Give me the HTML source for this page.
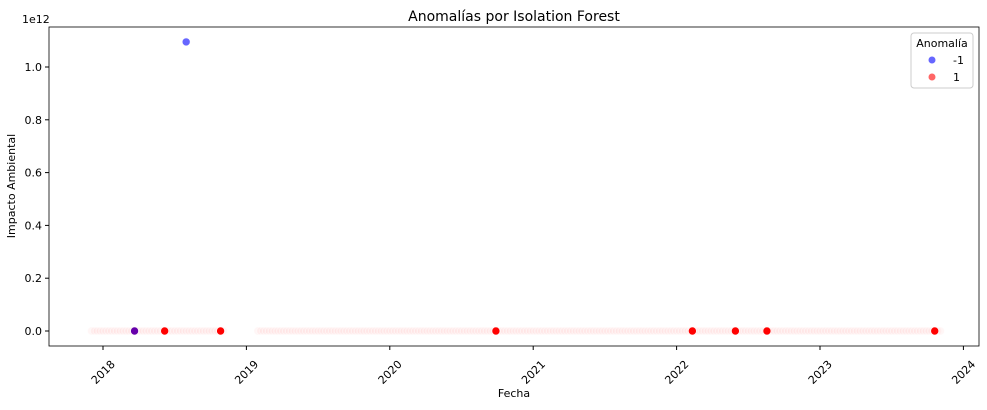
<!DOCTYPE html>
<html><head><meta charset="utf-8"><style>
body{margin:0;background:#fff;font-family:"Liberation Sans","DejaVu Sans",sans-serif}
svg text{font-family:"DejaVu Sans","Liberation Sans",sans-serif}
</style></head><body>
<svg id="c" width="987" height="405"></svg>
<script>
const yTicks=[0,0.2,0.4,0.6,0.8,1.0];
const yTickLabels=["0.0","0.2","0.4","0.6","0.8","1.0"];
const xTicks=[2018,2019,2020,2021,2022,2023,2024];
const xTickLabels=["2018","2019","2020","2021","2022","2023","2024"];
const normalRanges=[[2017.92,2018.85],[2019.08,2023.85]];
const redDates=[2018.22,2018.43,2018.82,2020.74,2022.11,2022.41,2022.63,2023.80];
const redValues=[0,0,0,0,0,0,0,0];
const blueDates=[2018.22,2018.58];
const blueValues=[0,1.095];
const L=49,R=979,T=27,B=346;
const x=v=>103+(v-2018)*143.4;
const y=v=>331-v*264;
const s=document.getElementById('c');const N='http://www.w3.org/2000/svg';
function el(t,a,txt){const e=document.createElementNS(N,t);for(const k in a)e.setAttribute(k,a[k]);if(txt!=null)e.textContent=txt;s.appendChild(e);return e;}
let e;
e=el('text',{x:514,y:21,'text-anchor':'middle','font-size':14},'Anomalías por Isolation Forest');


e=el('text',{x:22,y:23,'font-size':11},'1e12');


yTicks.forEach((v,i)=>{el('line',{x1:L-4,x2:L,y1:y(v),y2:y(v),stroke:'#000'});
e=el('text',{x:L-7,y:y(v)+4,'text-anchor':'end','font-size':11},yTickLabels[i]);

});
xTicks.forEach((v,i)=>{el('line',{x1:x(v),x2:x(v),y1:B,y2:B+4,stroke:'#000'});
const cx=x(v),cy=B+26;
e=el('text',{x:cx,y:cy+4,'text-anchor':'middle','font-size':11,transform:`rotate(-45 ${cx} ${cy})`},xTickLabels[i]);

});
normalRanges.forEach(r=>{for(let d=r[0];d<=r[1]+1e-9;d+=0.02){e=el('circle',{cx:x(d),cy:y(0),r:4,fill:'#ff6666','fill-opacity':0.06,stroke:'#fff','stroke-opacity':0.5,'stroke-width':0.8});

}});
redDates.forEach((d,i)=>{e=el('circle',{cx:x(d),cy:y(redValues[i]),r:4,fill:'#ff0000',stroke:'#fff','stroke-width':0.6});

});
blueDates.forEach((d,i)=>{e=el('circle',{cx:x(d),cy:y(blueValues[i]),r:4,fill:i==0?'#6600aa':'#6666ff',stroke:'#fff','stroke-width':0.6});

});
el('rect',{x:L,y:T,width:R-L,height:B-T,fill:'none',stroke:'#000','stroke-width':0.8});
e=el('text',{x:514,y:397,'text-anchor':'middle','font-size':11},'Fecha');


e=el('text',{x:15,y:186,'text-anchor':'middle','font-size':11,transform:'rotate(-90 15 186)'},'Impacto Ambiental');


e=el('rect',{x:911,y:33,width:62,height:55,fill:'#fff','fill-opacity':0.8,stroke:'#ccc',rx:3});


el('text',{x:942,y:47,'text-anchor':'middle','font-size':11},'Anomalía');
el('circle',{cx:932,cy:60,r:3.5,fill:'#6666ff'});
el('text',{x:953,y:64,'font-size':11},'-1');
el('circle',{cx:932,cy:77,r:3.5,fill:'#ff6666'});
el('text',{x:953,y:81,'font-size':11},'1');
</script></body></html>
